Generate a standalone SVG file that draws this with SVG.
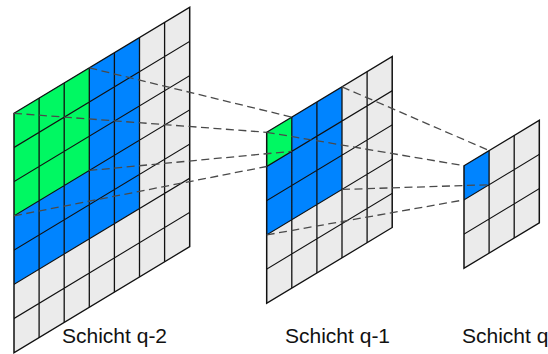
<svg xmlns="http://www.w3.org/2000/svg" width="548" height="354" viewBox="0 0 548 354">
<style>
.gray{fill:#ebebeb}
.blue{fill:#0084ff}
.green{fill:#00f862}
.grid{fill:none;stroke:#111;stroke-width:1.3}
.border{fill:none;stroke:#111;stroke-width:1.5}
.dash{fill:none;stroke:#4a4a4a;stroke-width:1.3;stroke-dasharray:8,4.5}
.lbl{font-family:"Liberation Sans",Arial,sans-serif;font-size:21px;fill:#111}
</style>
<rect width="548" height="354" fill="#fff"/>
<g id="layer-q-2">
<g transform="matrix(1,-0.6036,0,1,14,113.3)">
<rect class="gray" x="0" y="0" width="175.7" height="239.4"/>
<rect class="blue" x="0" y="0" width="125.5" height="171"/>
<rect class="green" x="0" y="0" width="75.3" height="102.6"/>
<path class="grid" d="M25.1 0V239.4M50.2 0V239.4M75.3 0V239.4M100.4 0V239.4M125.5 0V239.4M150.6 0V239.4M0 34.2H175.7M0 68.4H175.7M0 102.6H175.7M0 136.8H175.7M0 171H175.7M0 205.2H175.7"/>
<rect class="border" x="0" y="0" width="175.7" height="239.4"/>
</g>
</g>
<g id="layer-q-1">
<g transform="matrix(1,-0.6036,0,1,266.7,132.3)">
<rect class="gray" x="0" y="0" width="125.5" height="171"/>
<rect class="blue" x="0" y="0" width="75.3" height="102.6"/>
<rect class="green" x="0" y="0" width="25.1" height="34.2"/>
<path class="grid" d="M25.1 0V171M50.2 0V171M75.3 0V171M100.4 0V171M0 34.2H125.5M0 68.4H125.5M0 102.6H125.5M0 136.8H125.5"/>
<rect class="border" x="0" y="0" width="125.5" height="171"/>
</g>
</g>
<g id="layer-q">
<g transform="matrix(1,-0.6036,0,1,464,165.7)">
<rect class="gray" x="0" y="0" width="75.3" height="102.6"/>
<rect class="blue" x="0" y="0" width="25.1" height="34.2"/>
<path class="grid" d="M25.1 0V102.6M50.2 0V102.6M0 34.2H75.3M0 68.4H75.3"/>
<rect class="border" x="0" y="0" width="75.3" height="102.6"/>
</g>
</g>
<g id="connectors">
<line class="dash" x1="89.3" y1="67.85" x2="291.8" y2="117.15"/>
<line class="dash" x1="14" y1="113.3" x2="266.7" y2="132.3"/>
<line class="dash" x1="89.3" y1="170.45" x2="291.8" y2="151.35"/>
<line class="dash" x1="14" y1="215.9" x2="266.7" y2="166.5"/>
<line class="dash" x1="342" y1="86.85" x2="489.1" y2="150.55"/>
<line class="dash" x1="266.7" y1="132.3" x2="464" y2="165.7"/>
<line class="dash" x1="342" y1="189.45" x2="489.1" y2="184.75"/>
<line class="dash" x1="266.7" y1="234.9" x2="464" y2="199.9"/>
</g>
<g id="labels">
<text class="lbl" x="62" y="343">Schicht q-2</text>
<text class="lbl" x="285" y="343">Schicht q-1</text>
<text class="lbl" x="462" y="343">Schicht q</text>
</g>
</svg>
